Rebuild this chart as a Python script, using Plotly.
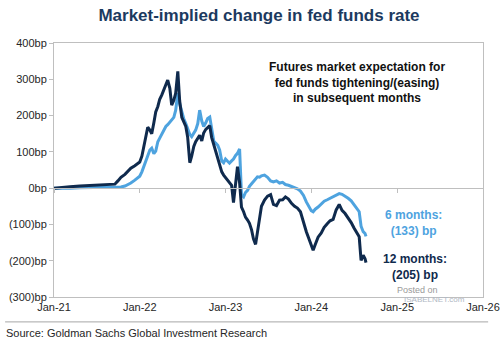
import plotly.graph_objects as go

# Observation dates (roughly every one to two weeks)
dates = [
    "2021-01-01", "2021-02-04", "2021-03-10", "2021-04-21", "2021-06-03", "2021-07-15",
    "2021-08-27", "2021-09-17", "2021-09-30", "2021-10-13", "2021-10-30", "2021-11-11",
    "2021-11-24", "2021-12-11", "2021-12-24", "2022-01-01", "2022-01-10", "2022-01-18",
    "2022-01-27", "2022-02-04", "2022-02-13", "2022-02-21", "2022-03-02", "2022-03-10",
    "2022-03-19", "2022-03-27", "2022-04-05", "2022-04-13", "2022-04-22", "2022-04-30",
    "2022-05-09", "2022-05-17", "2022-05-26", "2022-06-03", "2022-06-12", "2022-06-20",
    "2022-06-29", "2022-07-07", "2022-07-16", "2022-07-24", "2022-08-02", "2022-08-10",
    "2022-08-19", "2022-08-27", "2022-09-05", "2022-09-13", "2022-09-22", "2022-09-30",
    "2022-10-09", "2022-10-17", "2022-10-26", "2022-11-03", "2022-11-12", "2022-11-20",
    "2022-11-29", "2022-12-07", "2022-12-16", "2022-12-24", "2023-01-01", "2023-01-10",
    "2023-01-18", "2023-01-27", "2023-02-04", "2023-02-13", "2023-02-21", "2023-03-02",
    "2023-03-10", "2023-03-19", "2023-03-27", "2023-04-05", "2023-04-13", "2023-04-22",
    "2023-04-30", "2023-05-09", "2023-05-17", "2023-05-26", "2023-06-03", "2023-06-16",
    "2023-06-29", "2023-07-12", "2023-07-24", "2023-08-06", "2023-08-19", "2023-09-01",
    "2023-09-13", "2023-09-26", "2023-10-09", "2023-10-22", "2023-11-03", "2023-11-16",
    "2023-11-29", "2023-12-11", "2023-12-24", "2024-01-01", "2024-01-09", "2024-01-18",
    "2024-01-30", "2024-02-12", "2024-02-25", "2024-03-09", "2024-03-21", "2024-04-03",
    "2024-04-16", "2024-04-29", "2024-05-11", "2024-05-24", "2024-06-06", "2024-06-19",
    "2024-07-01", "2024-07-14", "2024-07-23", "2024-07-31", "2024-08-09", "2024-08-17",
    "2024-08-21",
]

# Implied change over the next 12 months (bp)
months_12 = [
    0, 3, 4, 6, 7, 8,
    9, 11, 20, 30, 38, 45,
    55, 62, 68, 72, 88, 112,
    135, 168, 160, 150, 180, 210,
    225, 245, 257, 272, 285, 298,
    275, 229, 242, 262, 322, 240,
    195, 182, 170, 140, 70, 88,
    115, 128, 138, 146, 130, 152,
    162, 168, 172, 140, 120, 98,
    85, 62, 45, 36, 30, 22,
    15, 8, -40, 10, 59, 15,
    -52, -65, -80, -88, -97, -115,
    -140, -155, -120, -80, -50, -33,
    -22, -18, -45, -48, -33, -32,
    -24, -30, -42, -50, -55, -65,
    -95, -120, -143, -160, -171, -155,
    -135, -124, -108, -98, -90, -86,
    -60, -45, -61, -70, -82, -95,
    -110, -125, -134, -199, -185, -195,
    -205,
]

# Implied change over the next 6 months (bp)
months_6 = [
    0, -1, 0, 1, 1, 1,
    2, 2, 2, 3, 6, 9,
    14, 22, 28, 33, 45, 60,
    78, 92, 105, 110, 95, 102,
    128, 138, 150, 162, 170, 175,
    182, 188, 195, 215, 262, 232,
    210, 192, 178, 162, 148, 142,
    150, 160, 178, 215, 185, 170,
    180, 192, 196, 160, 130, 124,
    118, 105, 75, 70, 80, 74,
    69, 75, 80, 90, 96, 108,
    -18, -24, -12, -6, 5, 12,
    18, 25, 31, 30, 34, 36,
    30, 20, 17, 20, 14, 16,
    10, 8, 5, 2, -2, -8,
    -20, -38, -55, -62, -65, -58,
    -52, -44, -36, -32, -28, -24,
    -18, -15, -17, -22, -28, -35,
    -45, -55, -65, -105, -120, -125,
    -133,
]

y_ticks = [400, 300, 200, 100, 0, -100, -200, -300]
y_labels = ["400bp", "300bp", "200bp", "100bp", "0bp", "(100)bp", "(200)bp", "(300)bp"]
x_ticks = ["2021-01-01", "2022-01-01", "2023-01-01", "2024-01-01", "2025-01-01", "2026-01-01"]
x_labels = ["Jan-21", "Jan-22", "Jan-23", "Jan-24", "Jan-25", "Jan-26"]

NAVY = "#0f2a4d"
LIGHT = "#4ea3df"
FONT = "Liberation Sans, Arial, sans-serif"

fig = go.Figure()
fig.add_trace(go.Scatter(x=dates, y=months_6, mode="lines", name="6 months",
                         line=dict(color=LIGHT, width=3)))
fig.add_trace(go.Scatter(x=dates, y=months_12, mode="lines", name="12 months",
                         line=dict(color=NAVY, width=3)))
# empty trace so the zero-line axis with tick marks gets drawn
fig.add_trace(go.Scatter(x=[], y=[], xaxis="x2", showlegend=False, hoverinfo="skip"))

x_range = ["2021-01-01", "2026-01-01"]
y_range = [-300, 400]

fig.update_layout(
    width=500, height=341,
    margin=dict(l=54, r=17, t=43, b=44, autoexpand=False),
    paper_bgcolor="white", plot_bgcolor="white",
    showlegend=False,
    font=dict(family=FONT, color="#262626", size=11),
    title=dict(text="<b>Market-implied change in fed funds rate</b>",
               x=0.518, xanchor="center", y=0.955, yanchor="middle",
               font=dict(family=FONT, size=17, color="#1c3a60")),
    xaxis=dict(type="date", range=x_range, tickvals=x_ticks, ticktext=x_labels,
               showgrid=False, zeroline=False, showline=True, mirror=True,
               linecolor="#bfbfbf", linewidth=1, ticks="", automargin=False,
               ticklabeloverflow="allow",
               tickfont=dict(family=FONT, size=11, color="#262626")),
    xaxis2=dict(type="date", range=x_range, tickvals=x_ticks, overlaying="x",
                anchor="free", position=3 / 7, showticklabels=False,
                showgrid=False, zeroline=False, showline=True, automargin=False,
                linecolor="#bfbfbf", linewidth=1, ticks="outside", ticklen=4,
                tickcolor="#bfbfbf"),
    yaxis=dict(range=y_range, tickvals=y_ticks, ticktext=y_labels,
               showgrid=False, zeroline=False, showline=True, mirror=True,
               linecolor="#bfbfbf", linewidth=1, ticks="outside", ticklen=4,
               tickcolor="#bfbfbf", automargin=False,
               tickfont=dict(family=FONT, size=11, color="#262626")),
)

annotations = [
    dict(text="<b>Futures market expectation for<br>fed funds tightening/(easing)<br>in subsequent months</b>",
         x=0.706, y=0.843, font=dict(size=12, color="#111111")),
    dict(text="<b>6 months:<br>(133) bp</b>", x=0.837, y=0.293,
         font=dict(size=12, color=LIGHT)),
    dict(text="<b>12 months:<br>(205) bp</b>", x=0.841, y=0.12,
         font=dict(size=12, color=NAVY)),
    dict(text="Posted on", x=0.848, y=0.028, font=dict(size=9, color="#9a9a9a")),
    dict(text="ISABELNET.com", x=0.888, y=-0.01, font=dict(size=8, color="#b0b8c4")),
    dict(text="Source: Goldman Sachs Global Investment Research", x=-0.114, y=-0.142,
         xanchor="left", font=dict(size=11, color="#262626")),
]
for a in annotations:
    a.setdefault("xanchor", "center")
    fig.add_annotation(xref="paper", yref="paper", showarrow=False, yanchor="middle",
                       borderpad=0, font_family=FONT, **{k: v for k, v in a.items()})

# rule above the source line
fig.add_shape(type="line", xref="paper", yref="paper", x0=-0.114, x1=1.012,
              y0=-0.098, y1=-0.098, line=dict(color="#a6a6a6", width=1))

fig.write_html("out.html")
